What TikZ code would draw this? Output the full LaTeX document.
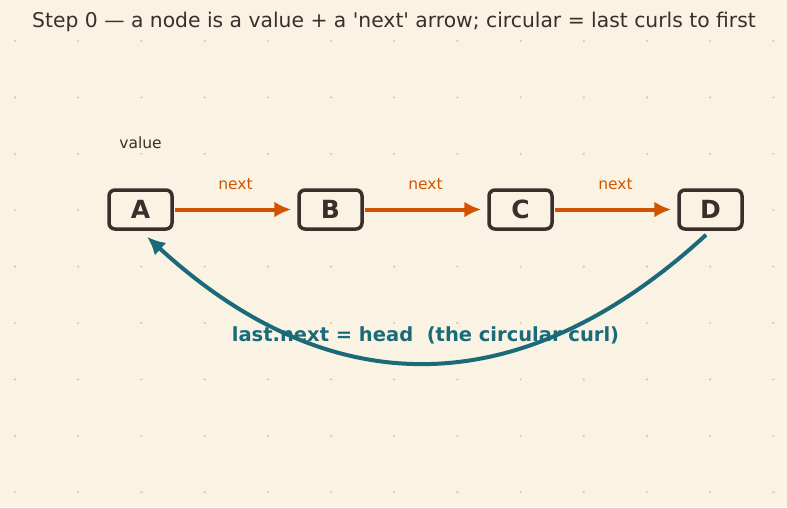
\documentclass[tikz,border=0pt]{standalone}
\usepackage{fontspec}
\setmainfont{DejaVu Sans}
\newfontfamily\plainfont{DejaVu Sans}
\usetikzlibrary{arrows.meta}
\definecolor{bg}{HTML}{FAF3E3}
\definecolor{ink}{HTML}{3A2F2A}
\definecolor{orng}{HTML}{D35400}
\definecolor{teal}{HTML}{1A6A7A}
\definecolor{dotc}{HTML}{D2C9B8}
\begin{document}
\begin{tikzpicture}[x=1pt,y=-1pt,
  box/.style={draw=ink,line width=3.5pt,rounded corners=6pt,fill=bg,minimum width=63pt,minimum height=39pt,inner sep=0pt,text=ink,font=\fontsize{25}{27}\selectfont\bfseries},
  nextarr/.style={draw=orng,line width=4pt,-{Latex[length=17pt,width=16pt]},shorten >=6pt,shorten <=1pt},
  lbl/.style={text=orng,font=\fontsize{15.5}{17}\selectfont},
  curl/.style={draw=teal,line width=4pt,-{Latex[length=18pt,width=17pt]}}]
\fill[bg] (0,0) rectangle (787,507);
\useasboundingbox (0,0) rectangle (787,507);
\foreach \i in {0,...,12}{
  \foreach \j in {0,...,8}{
    \fill[dotc] ({15+63.2*\i},{41+56.4*\j}) circle (1.2pt);
  }
}
\node[text=ink,font=\plainfont\fontsize{20.3}{22}\selectfont] (title) at (394,22) {Step 0 — a node is a value + a 'next' arrow; circular = last curls to first};
\node[box] (A) at (140.5,209.5) {A};
\node[box] (B) at (330.5,209.5) {B};
\node[box] (C) at (520.5,209.5) {C};
\node[box] (D) at (710.5,209.5) {D};
\node[text=ink,font=\fontsize{15.5}{17}\selectfont] (val) at (140.5,143) {value};
\draw[nextarr] (A) -- (B) node[lbl,midway,above=14pt] (n1) {next};
\draw[nextarr] (B) -- (C) node[lbl,midway,above=14pt] (n2) {next};
\draw[nextarr] (C) -- (D) node[lbl,midway,above=14pt] (n3) {next};
\draw[curl,shorten <=6pt,shorten >=9pt] (D.south) .. controls (520.5,405) and (330.5,405) .. (A.south);
\node[text=teal,font=\fontsize{19.5}{21}\selectfont\bfseries] (cap) at (425.5,335) {last.next = head\ \ (the circular curl)};
\end{tikzpicture}
\end{document}
